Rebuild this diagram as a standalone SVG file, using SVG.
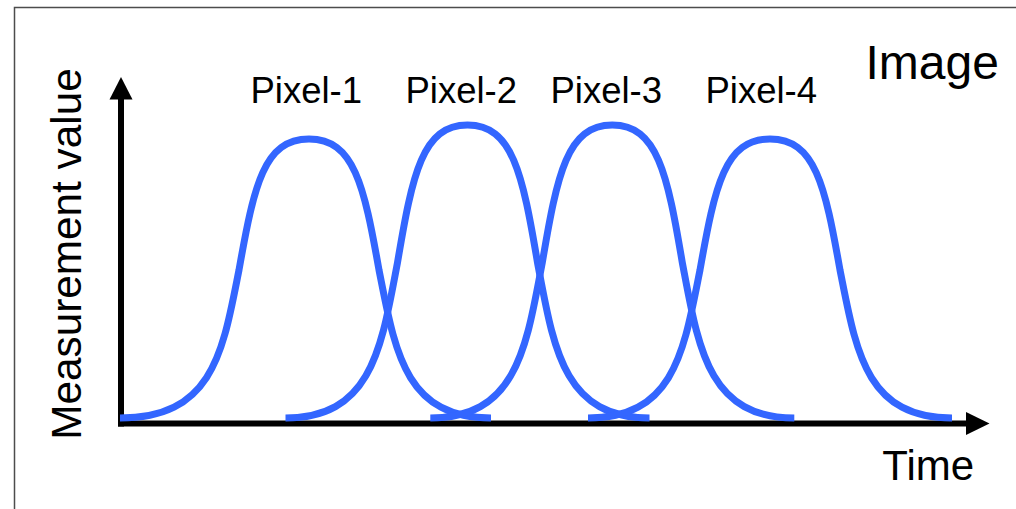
<svg xmlns="http://www.w3.org/2000/svg" width="1016" height="509" viewBox="0 0 1016 509">
  <style>
    .frame { fill: #ffffff; stroke: #4d4d4d; stroke-width: 1.5; }
    .axis { stroke: #000000; stroke-width: 6; fill: none; }
    .head { fill: #000000; stroke: none; }
    .curve { fill: none; stroke: #3366ff; stroke-width: 7; stroke-linecap: butt; stroke-linejoin: round; }
    .lbl { font-family: "Liberation Sans", Arial, sans-serif; fill: #000000; }
  </style>
  <rect class="frame" x="14.5" y="7.5" width="1010" height="510"/>

  <g id="axes">
    <line class="axis" x1="121" y1="426.5" x2="121" y2="96"/>
    <polygon class="head" points="121,77 109.5,99.5 132.5,99.5"/>
    <line class="axis" x1="118" y1="423.5" x2="969" y2="423.5"/>
    <polygon class="head" points="989.5,423.5 966,412 966,435"/>
  </g>

  <g id="curves">
    <path id="pixel-1-curve" class="curve" d="M120,418 C214,418 223,350 239,270 C254,185 264,139 309,139 C354,139 364,185 379,270 C395,350 404,418 491,418"/>
    <path id="pixel-2-curve" class="curve" d="M285.5,418 C372.5,418 381.5,346.6 397.5,262.6 C412.5,173.3 422.5,125 467.5,125 C512.5,125 522.5,173.3 537.5,262.6 C553.5,346.6 562.5,418 649.5,418"/>
    <path id="pixel-3-curve" class="curve" d="M430.3,418 C517.3,418 526.3,346.6 542.3,262.6 C557.3,173.3 567.3,125 612.3,125 C657.3,125 667.3,173.3 682.3,262.6 C698.3,346.6 707.3,418 794.3,418"/>
    <path id="pixel-4-curve" class="curve" d="M588,418 C675,418 684,350 700,270 C715,185 725,139 770,139 C815,139 825,185 840,270 C856,350 865,418 952,418"/>
  </g>

  <g id="labels">
    <text class="lbl" font-size="36.5" x="250.5" y="103">Pixel-1</text>
    <text class="lbl" font-size="36.5" x="405.5" y="103">Pixel-2</text>
    <text class="lbl" font-size="36.5" x="550.5" y="103">Pixel-3</text>
    <text class="lbl" font-size="36.5" x="705.5" y="103">Pixel-4</text>
    <text class="lbl" font-size="48" x="865.5" y="79">Image</text>
    <text class="lbl" font-size="42" x="882.3" y="480">Time</text>
    <text class="lbl" font-size="42.3" text-anchor="middle" transform="translate(81,254) rotate(-90)">Measurement value</text>
  </g>
</svg>
